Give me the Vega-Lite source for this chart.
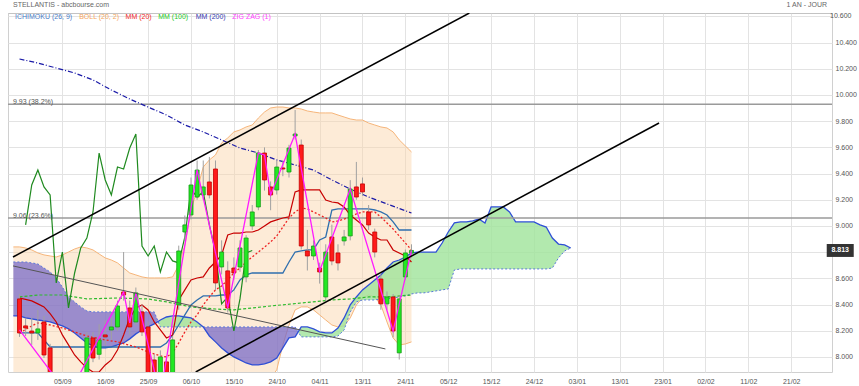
{
"$schema":"https://vega.github.io/schema/vega-lite/v6.json",
"width":824,"height":359,
"autosize":{"type":"none"},
"padding":{"left":8,"top":13,"right":27,"bottom":14},
"background":"white",
"config":{"font":"Liberation Sans","view":{"stroke":"#d0d0d0"},"axis":{"labelOverlap":false},"axisY":{"labelOverlap":false,"labelBound":false,"labelFlush":false},"axisQuantitative":{"labelOverlap":false}},
"datasets":{
"candles":[
{"i":-7,"o":8.443,"h":8.481,"l":8.153,"c":8.183},{"i":-6,"o":8.237,"h":8.298,"l":8.16,"c":8.221},{"i":-5,"o":8.198,"h":8.298,"l":8.092,"c":8.183},{"i":-4,"o":8.183,"h":8.359,"l":8.13,"c":8.214},{"i":-3,"o":8.267,"h":8.313,"l":7.992,"c":8.015},{"i":-2,"o":8.069,"h":8.1,"l":7.8,"c":7.84},{"i":-1,"o":7.84,"h":7.87,"l":7.72,"c":7.75},{"i":0,"o":7.75,"h":7.85,"l":7.7,"c":7.8},{"i":1,"o":7.8,"h":7.86,"l":7.68,"c":7.72},{"i":2,"o":7.72,"h":7.84,"l":7.7,"c":7.81},{"i":3,"o":7.81,"h":7.87,"l":7.74,"c":7.83},{"i":4,"o":7.86,"h":8.19,"l":7.82,"c":8.145},{"i":5,"o":8.145,"h":8.19,"l":7.96,"c":7.992},{"i":6,"o":8.02,"h":8.25,"l":7.98,"c":8.13},{"i":7,"o":8.168,"h":8.28,"l":8.09,"c":8.153},{"i":8,"o":8.206,"h":8.3,"l":8.13,"c":8.229},{"i":9,"o":8.229,"h":8.43,"l":8.2,"c":8.389},{"i":10,"o":8.496,"h":8.801,"l":8.43,"c":8.473},{"i":11,"o":8.374,"h":8.43,"l":8.17,"c":8.229},{"i":12,"o":8.267,"h":8.53,"l":8.24,"c":8.489},{"i":13,"o":8.344,"h":8.4,"l":8.16,"c":8.191},{"i":14,"o":8.229,"h":8.27,"l":7.82,"c":7.86},{"i":15,"o":7.977,"h":8.02,"l":7.8,"c":7.84},{"i":16,"o":7.84,"h":8.05,"l":7.8,"c":8.0},{"i":17,"o":7.962,"h":7.99,"l":7.8,"c":7.84},{"i":18,"o":7.84,"h":8.16,"l":7.82,"c":8.13},{"i":19,"o":8.397,"h":8.85,"l":8.36,"c":8.809},{"i":20,"o":8.954,"h":9.08,"l":8.89,"c":9.008},{"i":21,"o":9.084,"h":9.37,"l":9.05,"c":9.313},{"i":22,"o":9.221,"h":9.5,"l":9.2,"c":9.427},{"i":23,"o":9.237,"h":9.5,"l":9.2,"c":9.298},{"i":24,"o":9.336,"h":9.527,"l":9.21,"c":9.237},{"i":25,"o":9.435,"h":9.5,"l":8.51,"c":8.565},{"i":26,"o":8.687,"h":8.89,"l":8.63,"c":8.801},{"i":27,"o":8.657,"h":8.73,"l":8.34,"c":8.374},{"i":28,"o":8.679,"h":8.76,"l":8.59,"c":8.641},{"i":29,"o":8.687,"h":8.89,"l":8.65,"c":8.832},{"i":30,"o":8.611,"h":8.93,"l":8.57,"c":8.908},{"i":31,"o":9.0,"h":9.16,"l":8.97,"c":9.107},{"i":32,"o":9.145,"h":9.58,"l":9.12,"c":9.557},{"i":33,"o":9.557,"h":9.6,"l":9.27,"c":9.351},{"i":34,"o":9.298,"h":9.34,"l":9.12,"c":9.237},{"i":35,"o":9.275,"h":9.5,"l":9.24,"c":9.45},{"i":36,"o":9.443,"h":9.5,"l":9.38,"c":9.435},{"i":37,"o":9.412,"h":9.62,"l":9.37,"c":9.595},{"i":38,"o":9.687,"h":9.886,"l":9.66,"c":9.702},{"i":39,"o":9.618,"h":9.66,"l":8.82,"c":8.847},{"i":40,"o":8.809,"h":8.97,"l":8.66,"c":8.771},{"i":41,"o":8.771,"h":8.89,"l":8.74,"c":8.847},{"i":42,"o":8.679,"h":8.72,"l":8.56,"c":8.649},{"i":43,"o":8.458,"h":8.86,"l":8.43,"c":8.801},{"i":44,"o":8.916,"h":9.01,"l":8.7,"c":8.733},{"i":45,"o":8.794,"h":8.86,"l":8.66,"c":8.718},{"i":46,"o":8.886,"h":8.97,"l":8.85,"c":8.916},{"i":47,"o":8.924,"h":9.35,"l":8.89,"c":9.282},{"i":48,"o":9.298,"h":9.489,"l":9.2,"c":9.221},{"i":49,"o":9.321,"h":9.37,"l":9.23,"c":9.26},{"i":50,"o":9.107,"h":9.16,"l":8.97,"c":9.008},{"i":51,"o":8.954,"h":8.98,"l":8.76,"c":8.801},{"i":52,"o":8.595,"h":8.63,"l":8.36,"c":8.405},{"i":53,"o":8.405,"h":8.5,"l":8.36,"c":8.458},{"i":54,"o":8.458,"h":8.48,"l":8.15,"c":8.198},{"i":55,"o":8.031,"h":8.47,"l":7.98,"c":8.443},{"i":56,"o":8.611,"h":8.82,"l":8.59,"c":8.794},{"i":57,"o":8.794,"h":8.86,"l":8.76,"c":8.813}],
"boll":[
{"i":-8,"up":8.84,"lo":7.519},{"i":-7,"up":8.84,"lo":7.527},{"i":-6,"up":8.832,"lo":7.595},{"i":-5,"up":8.817,"lo":7.672},{"i":-4,"up":8.794,"lo":7.725},{"i":-3,"up":8.779,"lo":7.733},{"i":-2,"up":8.771,"lo":7.725},{"i":-1,"up":8.763,"lo":7.71},{"i":0,"up":8.779,"lo":7.672},{"i":1,"up":8.801,"lo":7.618},{"i":2,"up":8.824,"lo":7.565},{"i":3,"up":8.84,"lo":7.519},{"i":4,"up":8.832,"lo":7.489},{"i":5,"up":8.817,"lo":7.473},{"i":6,"up":8.786,"lo":7.489},{"i":7,"up":8.756,"lo":7.496},{"i":8,"up":8.74,"lo":7.504},{"i":9,"up":8.718,"lo":7.519},{"i":10,"up":8.679,"lo":7.534},{"i":11,"up":8.641,"lo":7.542},{"i":12,"up":8.626,"lo":7.519},{"i":13,"up":8.611,"lo":7.496},{"i":14,"up":8.603,"lo":7.473},{"i":15,"up":8.603,"lo":7.443},{"i":16,"up":8.603,"lo":7.412},{"i":17,"up":8.603,"lo":7.397},{"i":18,"up":8.611,"lo":7.443},{"i":19,"up":8.702,"lo":7.557},{"i":20,"up":8.855,"lo":7.519},{"i":21,"up":9.122,"lo":7.412},{"i":22,"up":9.275,"lo":7.397},{"i":23,"up":9.45,"lo":7.389},{"i":24,"up":9.504,"lo":7.428},{"i":25,"up":9.542,"lo":7.481},{"i":26,"up":9.634,"lo":7.481},{"i":27,"up":9.672,"lo":7.504},{"i":28,"up":9.718,"lo":7.565},{"i":29,"up":9.733,"lo":7.626},{"i":30,"up":9.756,"lo":7.687},{"i":31,"up":9.771,"lo":7.756},{"i":32,"up":9.824,"lo":7.786},{"i":33,"up":9.87,"lo":7.809},{"i":34,"up":9.901,"lo":7.84},{"i":35,"up":9.908,"lo":7.901},{"i":36,"up":9.908,"lo":8.092},{"i":37,"up":9.901,"lo":8.244},{"i":38,"up":9.901,"lo":8.359},{"i":39,"up":9.893,"lo":8.382},{"i":40,"up":9.878,"lo":8.382},{"i":41,"up":9.87,"lo":8.359},{"i":42,"up":9.863,"lo":8.321},{"i":43,"up":9.863,"lo":8.282},{"i":44,"up":9.863,"lo":8.244},{"i":45,"up":9.847,"lo":8.229},{"i":46,"up":9.832,"lo":8.237},{"i":47,"up":9.817,"lo":8.298},{"i":48,"up":9.809,"lo":8.397},{"i":49,"up":9.809,"lo":8.45},{"i":50,"up":9.786,"lo":8.473},{"i":51,"up":9.771,"lo":8.458},{"i":52,"up":9.756,"lo":8.397},{"i":53,"up":9.748,"lo":8.267},{"i":54,"up":9.718,"lo":8.145},{"i":55,"up":9.657,"lo":8.092},{"i":56,"up":9.611,"lo":8.099},{"i":57,"up":9.565,"lo":8.115}],
"cloud":[
{"i":-8,"a":8.313,"b":8.725,"seg":"s1","trend":"bear"},{"i":-7,"a":8.313,"b":8.725,"seg":"s1","trend":"bear"},{"i":-6,"a":8.298,"b":8.725,"seg":"s1","trend":"bear"},{"i":-5,"a":8.29,"b":8.718,"seg":"s1","trend":"bear"},{"i":-4,"a":8.282,"b":8.71,"seg":"s1","trend":"bear"},{"i":-3,"a":8.275,"b":8.679,"seg":"s1","trend":"bear"},{"i":-2,"a":8.267,"b":8.649,"seg":"s1","trend":"bear"},{"i":-1,"a":8.252,"b":8.603,"seg":"s1","trend":"bear"},{"i":0,"a":8.237,"b":8.534,"seg":"s1","trend":"bear"},{"i":1,"a":8.214,"b":8.458,"seg":"s1","trend":"bear"},{"i":2,"a":8.183,"b":8.42,"seg":"s1","trend":"bear"},{"i":3,"a":8.145,"b":8.382,"seg":"s1","trend":"bear"},{"i":4,"a":8.107,"b":8.351,"seg":"s1","trend":"bear"},{"i":5,"a":8.084,"b":8.344,"seg":"s1","trend":"bear"},{"i":6,"a":8.069,"b":8.344,"seg":"s1","trend":"bear"},{"i":7,"a":8.069,"b":8.344,"seg":"s1","trend":"bear"},{"i":8,"a":8.076,"b":8.344,"seg":"s1","trend":"bear"},{"i":9,"a":8.092,"b":8.344,"seg":"s1","trend":"bear"},{"i":10,"a":8.107,"b":8.344,"seg":"s1","trend":"bear"},{"i":11,"a":8.138,"b":8.344,"seg":"s1","trend":"bear"},{"i":12,"a":8.176,"b":8.344,"seg":"s1","trend":"bear"},{"i":13,"a":8.206,"b":8.344,"seg":"s1","trend":"bear"},{"i":14,"a":8.229,"b":8.344,"seg":"s1","trend":"bear"},{"i":15,"a":8.252,"b":8.344,"seg":"s1","trend":"bear"},{"i":15.63,"a":8.271,"b":8.271,"seg":"s1","trend":"bear"},
{"i":15.63,"a":8.271,"b":8.271,"seg":"s2","trend":"bull"},{"i":16,"a":8.282,"b":8.229,"seg":"s2","trend":"bull"},{"i":17,"a":8.305,"b":8.229,"seg":"s2","trend":"bull"},{"i":18,"a":8.313,"b":8.229,"seg":"s2","trend":"bull"},{"i":19,"a":8.313,"b":8.229,"seg":"s2","trend":"bull"},{"i":20,"a":8.305,"b":8.229,"seg":"s2","trend":"bull"},{"i":21,"a":8.298,"b":8.229,"seg":"s2","trend":"bull"},{"i":22,"a":8.267,"b":8.229,"seg":"s2","trend":"bull"},{"i":23,"a":8.229,"b":8.229,"seg":"s2","trend":"bull"},
{"i":23,"a":8.229,"b":8.229,"seg":"s3","trend":"bear"},{"i":24,"a":8.16,"b":8.229,"seg":"s3","trend":"bear"},{"i":25,"a":8.115,"b":8.229,"seg":"s3","trend":"bear"},{"i":26,"a":8.069,"b":8.229,"seg":"s3","trend":"bear"},{"i":27,"a":8.031,"b":8.229,"seg":"s3","trend":"bear"},{"i":28,"a":8.0,"b":8.229,"seg":"s3","trend":"bear"},{"i":29,"a":7.977,"b":8.229,"seg":"s3","trend":"bear"},{"i":30,"a":7.954,"b":8.229,"seg":"s3","trend":"bear"},{"i":31,"a":7.939,"b":8.229,"seg":"s3","trend":"bear"},{"i":32,"a":7.939,"b":8.229,"seg":"s3","trend":"bear"},{"i":33,"a":7.947,"b":8.229,"seg":"s3","trend":"bear"},{"i":34,"a":7.962,"b":8.229,"seg":"s3","trend":"bear"},{"i":35,"a":7.992,"b":8.229,"seg":"s3","trend":"bear"},{"i":36,"a":8.069,"b":8.229,"seg":"s3","trend":"bear"},{"i":37,"a":8.145,"b":8.229,"seg":"s3","trend":"bear"},{"i":38,"a":8.153,"b":8.229,"seg":"s3","trend":"bear"},{"i":38.5,"a":8.191,"b":8.191,"seg":"s3","trend":"bear"},
{"i":38.5,"a":8.191,"b":8.191,"seg":"s4","trend":"bull"},{"i":39,"a":8.229,"b":8.153,"seg":"s4","trend":"bull"},{"i":40,"a":8.229,"b":8.153,"seg":"s4","trend":"bull"},{"i":41,"a":8.214,"b":8.153,"seg":"s4","trend":"bull"},{"i":42,"a":8.191,"b":8.153,"seg":"s4","trend":"bull"},{"i":43,"a":8.183,"b":8.153,"seg":"s4","trend":"bull"},{"i":44,"a":8.183,"b":8.153,"seg":"s4","trend":"bull"},{"i":45,"a":8.221,"b":8.16,"seg":"s4","trend":"bull"},{"i":46,"a":8.298,"b":8.206,"seg":"s4","trend":"bull"},{"i":47,"a":8.397,"b":8.344,"seg":"s4","trend":"bull"},{"i":48,"a":8.458,"b":8.42,"seg":"s4","trend":"bull"},{"i":49,"a":8.512,"b":8.435,"seg":"s4","trend":"bull"},{"i":50,"a":8.55,"b":8.435,"seg":"s4","trend":"bull"},{"i":51,"a":8.588,"b":8.435,"seg":"s4","trend":"bull"},{"i":52,"a":8.626,"b":8.443,"seg":"s4","trend":"bull"},{"i":53,"a":8.679,"b":8.443,"seg":"s4","trend":"bull"},{"i":54,"a":8.725,"b":8.45,"seg":"s4","trend":"bull"},{"i":55,"a":8.74,"b":8.458,"seg":"s4","trend":"bull"},{"i":56,"a":8.763,"b":8.466,"seg":"s4","trend":"bull"},{"i":57,"a":8.794,"b":8.481,"seg":"s4","trend":"bull"},{"i":58,"a":8.801,"b":8.489,"seg":"s4","trend":"bull"},{"i":59,"a":8.801,"b":8.489,"seg":"s4","trend":"bull"},{"i":60,"a":8.801,"b":8.496,"seg":"s4","trend":"bull"},{"i":61,"a":8.801,"b":8.504,"seg":"s4","trend":"bull"},{"i":62,"a":8.87,"b":8.512,"seg":"s4","trend":"bull"},{"i":63,"a":8.954,"b":8.519,"seg":"s4","trend":"bull"},{"i":64,"a":9.023,"b":8.664,"seg":"s4","trend":"bull"},{"i":65,"a":9.031,"b":8.672,"seg":"s4","trend":"bull"},{"i":66,"a":9.031,"b":8.672,"seg":"s4","trend":"bull"},{"i":67,"a":9.038,"b":8.672,"seg":"s4","trend":"bull"},{"i":68,"a":9.053,"b":8.672,"seg":"s4","trend":"bull"},{"i":69,"a":9.023,"b":8.672,"seg":"s4","trend":"bull"},{"i":70,"a":9.145,"b":8.672,"seg":"s4","trend":"bull"},{"i":71,"a":9.145,"b":8.672,"seg":"s4","trend":"bull"},{"i":72,"a":9.145,"b":8.672,"seg":"s4","trend":"bull"},{"i":73,"a":9.107,"b":8.672,"seg":"s4","trend":"bull"},{"i":74,"a":9.031,"b":8.672,"seg":"s4","trend":"bull"},{"i":75,"a":9.031,"b":8.672,"seg":"s4","trend":"bull"},{"i":76,"a":9.031,"b":8.672,"seg":"s4","trend":"bull"},{"i":77,"a":9.031,"b":8.672,"seg":"s4","trend":"bull"},{"i":78,"a":9.008,"b":8.672,"seg":"s4","trend":"bull"},{"i":79,"a":8.992,"b":8.672,"seg":"s4","trend":"bull"},{"i":80,"a":8.908,"b":8.679,"seg":"s4","trend":"bull"},{"i":81,"a":8.862,"b":8.756,"seg":"s4","trend":"bull"},{"i":82,"a":8.855,"b":8.809,"seg":"s4","trend":"bull"},{"i":83,"a":8.832,"b":8.832,"seg":"s4","trend":"bull"}],
"tenkan":[{"i":-7,"v":8.45},{"i":-6,"v":8.44},{"i":-5,"v":8.428},{"i":-4,"v":8.405},{"i":-3,"v":8.382},{"i":-2,"v":8.33},{"i":-1,"v":8.267},{"i":0,"v":8.168},{"i":1,"v":8.092},{"i":2,"v":8.015},{"i":3,"v":7.962},{"i":4,"v":7.916},{"i":5,"v":7.885},{"i":6,"v":7.885},{"i":7,"v":7.939},{"i":8,"v":7.977},{"i":9,"v":8.053},{"i":10,"v":8.168},{"i":11,"v":8.298},{"i":12,"v":8.374},{"i":13,"v":8.397},{"i":14,"v":8.359},{"i":15,"v":8.267},{"i":16,"v":8.206},{"i":17,"v":8.145},{"i":18,"v":8.168},{"i":19,"v":8.435},{"i":20,"v":8.512},{"i":21,"v":8.588},{"i":22,"v":8.603},{"i":23,"v":8.611},{"i":24,"v":8.679},{"i":25,"v":8.725},{"i":26,"v":8.779},{"i":27,"v":8.931},{"i":28,"v":8.946},{"i":29,"v":8.946},{"i":30,"v":8.954},{"i":31,"v":8.954},{"i":32,"v":8.969},{"i":33,"v":9.0},{"i":34,"v":9.031},{"i":35,"v":9.046},{"i":36,"v":9.061},{"i":37,"v":9.069},{"i":38,"v":9.26},{"i":39,"v":9.275},{"i":40,"v":9.275},{"i":41,"v":9.275},{"i":42,"v":9.275},{"i":43,"v":9.198},{"i":44,"v":9.183},{"i":45,"v":9.176},{"i":46,"v":9.145},{"i":47,"v":9.084},{"i":48,"v":9.046},{"i":49,"v":9.008},{"i":50,"v":8.946},{"i":51,"v":8.916},{"i":52,"v":8.893},{"i":53,"v":8.893},{"i":54,"v":8.817},{"i":55,"v":8.794},{"i":56,"v":8.771},{"i":57,"v":8.725}],
"kijun":[{"i":-7,"v":8.183},{"i":-4,"v":8.183},{"i":-3,"v":8.13},{"i":-2,"v":8.076},{"i":16,"v":8.076},{"i":17,"v":8.107},{"i":18,"v":8.168},{"i":19,"v":8.244},{"i":20,"v":8.321},{"i":21,"v":8.397},{"i":22,"v":8.435},{"i":23,"v":8.466},{"i":25,"v":8.466},{"i":26,"v":8.473},{"i":27,"v":8.473},{"i":28,"v":8.512},{"i":29,"v":8.588},{"i":30,"v":8.626},{"i":31,"v":8.641},{"i":36,"v":8.641},{"i":37,"v":8.725},{"i":38,"v":8.801},{"i":39,"v":8.809},{"i":40,"v":8.817},{"i":41,"v":8.817},{"i":42,"v":8.893},{"i":43,"v":8.916},{"i":44,"v":9.122},{"i":45,"v":9.13},{"i":50,"v":9.13},{"i":51,"v":9.122},{"i":52,"v":9.107},{"i":53,"v":9.084},{"i":54,"v":9.031},{"i":55,"v":8.969},{"i":57,"v":8.969}],
"chikou":[{"i":-6,"v":9.008},{"i":-5,"v":9.313},{"i":-4,"v":9.427},{"i":-3,"v":9.298},{"i":-2,"v":9.237},{"i":-1,"v":8.565},{"i":0,"v":8.801},{"i":1,"v":8.374},{"i":2,"v":8.641},{"i":3,"v":8.832},{"i":4,"v":8.908},{"i":5,"v":9.107},{"i":6,"v":9.557},{"i":7,"v":9.351},{"i":8,"v":9.237},{"i":9,"v":9.45},{"i":10,"v":9.435},{"i":11,"v":9.595},{"i":12,"v":9.702},{"i":13,"v":8.847},{"i":14,"v":8.771},{"i":15,"v":8.847},{"i":16,"v":8.649},{"i":17,"v":8.801},{"i":18,"v":8.733},{"i":19,"v":8.718},{"i":20,"v":8.916},{"i":21,"v":9.282},{"i":22,"v":9.221},{"i":23,"v":9.26},{"i":24,"v":9.008},{"i":25,"v":8.801},{"i":26,"v":8.405},{"i":27,"v":8.458},{"i":28,"v":8.198},{"i":29,"v":8.443},{"i":30,"v":8.794},{"i":31,"v":8.813}],
"mm20":[{"i":-7,"v":8.183},{"i":-5,"v":8.237},{"i":-4,"v":8.26},{"i":-2,"v":8.244},{"i":0,"v":8.221},{"i":2,"v":8.191},{"i":4,"v":8.16},{"i":7,"v":8.13},{"i":9,"v":8.115},{"i":12,"v":8.076},{"i":14,"v":8.038},{"i":16,"v":8.008},{"i":17,"v":8.0},{"i":18,"v":8.031},{"i":19,"v":8.107},{"i":20,"v":8.191},{"i":21,"v":8.267},{"i":22,"v":8.321},{"i":23,"v":8.397},{"i":24,"v":8.458},{"i":25,"v":8.512},{"i":26,"v":8.542},{"i":27,"v":8.588},{"i":28,"v":8.641},{"i":29,"v":8.679},{"i":30,"v":8.725},{"i":31,"v":8.763},{"i":32,"v":8.801},{"i":33,"v":8.839},{"i":34,"v":8.878},{"i":35,"v":8.924},{"i":36,"v":8.992},{"i":37,"v":9.061},{"i":38,"v":9.107},{"i":39,"v":9.137},{"i":40,"v":9.13},{"i":41,"v":9.107},{"i":42,"v":9.084},{"i":43,"v":9.061},{"i":44,"v":9.031},{"i":45,"v":9.038},{"i":46,"v":9.053},{"i":47,"v":9.069},{"i":48,"v":9.092},{"i":49,"v":9.107},{"i":50,"v":9.107},{"i":51,"v":9.107},{"i":52,"v":9.069},{"i":53,"v":9.023},{"i":54,"v":8.977},{"i":55,"v":8.924},{"i":56,"v":8.87},{"i":57,"v":8.817}],
"mm100":[{"i":-7,"v":8.458},{"i":-4,"v":8.473},{"i":0,"v":8.473},{"i":4,"v":8.443},{"i":9,"v":8.45},{"i":14,"v":8.443},{"i":17,"v":8.42},{"i":21,"v":8.382},{"i":25,"v":8.366},{"i":28,"v":8.359},{"i":34,"v":8.389},{"i":39,"v":8.412},{"i":44,"v":8.435},{"i":47,"v":8.443},{"i":50,"v":8.458},{"i":53,"v":8.458},{"i":57,"v":8.473}],
"mm200":[{"i":-7,"v":10.275},{"i":-4,"v":10.244},{"i":-1,"v":10.206},{"i":2,"v":10.168},{"i":5,"v":10.115},{"i":8,"v":10.038},{"i":11,"v":9.969},{"i":14,"v":9.908},{"i":17,"v":9.847},{"i":20,"v":9.771},{"i":23,"v":9.718},{"i":26,"v":9.657},{"i":29,"v":9.595},{"i":32,"v":9.557},{"i":35,"v":9.504},{"i":38,"v":9.466},{"i":41,"v":9.427},{"i":44,"v":9.351},{"i":47,"v":9.282},{"i":50,"v":9.221},{"i":53,"v":9.168},{"i":57,"v":9.099}],
"zigzag":[{"i":-7,"v":8.206},{"i":1,"v":7.71},{"i":10,"v":8.496},{"i":11,"v":8.26},{"i":12,"v":8.489},{"i":16,"v":7.7},{"i":22,"v":9.427},{"i":27,"v":8.374},{"i":32,"v":9.557},{"i":33,"v":9.542},{"i":34,"v":9.237},{"i":38,"v":9.702},{"i":42,"v":8.657},{"i":47,"v":9.282},{"i":54,"v":8.198},{"i":57,"v":8.813}],
"channel":[{"line":"u","i":-8.06,"v":8.763},{"line":"u","i":66.45,"v":10.626},{"line":"l","i":21.77,"v":7.885},{"line":"l","i":97.42,"v":9.786}],
"trend":[{"i":-8.06,"v":8.695},{"i":52.74,"v":8.061}],
"fib":[{"level":10.63,"label":""},{"level":9.93,"label":"9.93  (38.2%)"},{"level":9.06,"label":"9.06  (23.6%)"}],
"toplabel":[{"v":10.6}],
"price":[{"price":8.813}],
"one":[{"n":1}]
},
"layer":[
{"data":{"name":"boll"},"mark":{"type":"area","fill":"#fbd3a6","opacity":0.45,"clip":true},
 "encoding":{"x":{"field":"i","type":"quantitative","scale":{"domain":[-8.06,124.84],"nice":false,"zero":false},
   "axis":{"values":[0,7,14,21,28,35,42,49,56,63,70,77,84,91,98,105,112,119],"tickCount":40,"labelExpr":"['05/09','16/09','25/09','06/10','15/10','24/10','04/11','13/11','24/11','05/12','15/12','24/12','03/01','13/01','23/01','02/02','11/02','21/02'][round(datum.value/7)]","labelOverlap":false,"grid":true,"gridColor":"#e3e3e3","ticks":false,"domain":false,"labelFontSize":7,"labelColor":"#555555","labelPadding":5,"title":null}},
  "y":{"field":"up","type":"quantitative","scale":{"domain":[7.885,10.626],"nice":false,"zero":false},
   "axis":{"orient":"right","tickCount":14,"labelExpr":"abs(datum.value-8.8)<0.01 || abs(datum.value-10.6)<0.01 ? '' : format(datum.value,'.3f')","labelOverlap":false,"labelBound":false,"labelFlush":false,"labelSeparation":0,"grid":true,"gridColor":"#e3e3e3","ticks":false,"domain":false,"labelFontSize":7,"labelColor":"#555555","labelPadding":3,"title":null}},
  "y2":{"field":"lo"}}},
{"data":{"name":"boll"},"mark":{"type":"line","color":"#f6b57a","strokeWidth":1,"clip":true},"encoding":{"x":{"field":"i","type":"quantitative"},"y":{"field":"up","type":"quantitative"}}},
{"data":{"name":"boll"},"mark":{"type":"line","color":"#f6b57a","strokeWidth":1,"clip":true},"encoding":{"x":{"field":"i","type":"quantitative"},"y":{"field":"lo","type":"quantitative"}}},
{"data":{"name":"cloud"},"transform":[{"filter":{"field":"trend","equal":"bear"}}],"mark":{"type":"area","fill":"#7466c8","opacity":0.72,"clip":true},"encoding":{"x":{"field":"i","type":"quantitative"},"y":{"field":"a","type":"quantitative"},"y2":{"field":"b"},"detail":{"field":"seg"}}},
{"data":{"name":"cloud"},"transform":[{"filter":{"field":"trend","equal":"bull"}}],"mark":{"type":"area","fill":"#9fe39a","opacity":0.8,"clip":true},"encoding":{"x":{"field":"i","type":"quantitative"},"y":{"field":"a","type":"quantitative"},"y2":{"field":"b"},"detail":{"field":"seg"}}},
{"data":{"name":"cloud"},"mark":{"type":"line","color":"#5a78dc","strokeWidth":1,"strokeDash":[2,2],"clip":true},"encoding":{"x":{"field":"i","type":"quantitative"},"y":{"field":"b","type":"quantitative"}}},
{"data":{"name":"cloud"},"mark":{"type":"line","color":"#2f4fd6","strokeWidth":1.3,"clip":true},"encoding":{"x":{"field":"i","type":"quantitative"},"y":{"field":"a","type":"quantitative"}}},
{"data":{"name":"fib"},"mark":{"type":"rule","color":"#9a9a9a","strokeWidth":1.5,"clip":true},"encoding":{"y":{"field":"level","type":"quantitative"}}},
{"data":{"name":"mm100"},"mark":{"type":"line","color":"#2dbb2d","strokeWidth":1.2,"strokeDash":[3,2],"clip":true},"encoding":{"x":{"field":"i","type":"quantitative"},"y":{"field":"v","type":"quantitative"}}},
{"data":{"name":"mm200"},"mark":{"type":"line","color":"#1a1aa8","strokeWidth":1.2,"strokeDash":[5,2,1,2],"clip":true},"encoding":{"x":{"field":"i","type":"quantitative"},"y":{"field":"v","type":"quantitative"}}},
{"data":{"name":"kijun"},"mark":{"type":"line","color":"#2f6fae","strokeWidth":1.3,"clip":true},"encoding":{"x":{"field":"i","type":"quantitative"},"y":{"field":"v","type":"quantitative"}}},
{"data":{"name":"tenkan"},"mark":{"type":"line","color":"#c80000","strokeWidth":1.2,"clip":true},"encoding":{"x":{"field":"i","type":"quantitative"},"y":{"field":"v","type":"quantitative"}}},
{"data":{"name":"mm20"},"mark":{"type":"line","color":"#ee2222","strokeWidth":1.3,"strokeDash":[2,2],"clip":true},"encoding":{"x":{"field":"i","type":"quantitative"},"y":{"field":"v","type":"quantitative"}}},
{"data":{"name":"chikou"},"mark":{"type":"line","color":"#1f8a1f","strokeWidth":1.2,"clip":true},"encoding":{"x":{"field":"i","type":"quantitative"},"y":{"field":"v","type":"quantitative"}}},
{"data":{"name":"candles"},"mark":{"type":"rule","color":"#a0a0a0","strokeWidth":1,"clip":true},"encoding":{"x":{"field":"i","type":"quantitative"},"y":{"field":"l","type":"quantitative"},"y2":{"field":"h"}}},
{"data":{"name":"candles"},"mark":{"type":"bar","width":4,"strokeWidth":0.8,"clip":true},"encoding":{"x":{"field":"i","type":"quantitative"},"y":{"field":"o","type":"quantitative"},"y2":{"field":"c"},
  "fill":{"condition":{"test":"datum.c >= datum.o","value":"#22e822"},"value":"#ff1a1a"},
  "stroke":{"condition":{"test":"datum.c >= datum.o","value":"#169c16"},"value":"#c40000"}}},
{"data":{"name":"zigzag"},"mark":{"type":"line","color":"#ff1aff","strokeWidth":1.3,"clip":true},"encoding":{"x":{"field":"i","type":"quantitative"},"y":{"field":"v","type":"quantitative"}}},
{"data":{"name":"trend"},"mark":{"type":"line","color":"#555555","strokeWidth":1,"clip":true},"encoding":{"x":{"field":"i","type":"quantitative"},"y":{"field":"v","type":"quantitative"}}},
{"data":{"name":"channel"},"mark":{"type":"line","color":"#000000","strokeWidth":1.5,"clip":true},"encoding":{"x":{"field":"i","type":"quantitative"},"y":{"field":"v","type":"quantitative"},"detail":{"field":"line"}}},
{"data":{"name":"fib"},"mark":{"type":"text","align":"left","baseline":"bottom","dy":1,"fontSize":7,"color":"#555555"},"encoding":{"x":{"datum":-8.06,"type":"quantitative"},"y":{"field":"level","type":"quantitative"},"text":{"field":"label"}}},
{"data":{"name":"toplabel"},"mark":{"type":"text","align":"left","baseline":"middle","fontSize":7,"color":"#555555"},"encoding":{"x":{"datum":125.33,"type":"quantitative"},"y":{"field":"v","type":"quantitative"},"text":{"field":"v","format":".3f"}}},
{"data":{"name":"one"},"mark":{"type":"text","text":"STELLANTIS - abcbourse.com","align":"left","baseline":"middle","dy":-8,"fontSize":7,"color":"#666666"},"encoding":{"x":{"datum":-8.06,"type":"quantitative"},"y":{"datum":10.626,"type":"quantitative"}}},
{"data":{"name":"one"},"mark":{"type":"text","text":"1 AN - JOUR","align":"right","baseline":"middle","dy":-8,"fontSize":7,"color":"#666666"},"encoding":{"x":{"datum":124.84,"type":"quantitative"},"y":{"datum":10.626,"type":"quantitative"}}},
{"data":{"name":"one"},"mark":{"type":"text","text":"ICHIMOKU (26, 9)","align":"left","baseline":"middle","dy":3.5,"fontSize":7,"color":"#4a7cc8"},"encoding":{"x":{"datum":-7.74,"type":"quantitative"},"y":{"datum":10.626,"type":"quantitative"}}},
{"data":{"name":"one"},"mark":{"type":"text","text":"BOLL (20, 2)","align":"left","baseline":"middle","dy":3.5,"fontSize":7,"color":"#f5a55a"},"encoding":{"x":{"datum":2.74,"type":"quantitative"},"y":{"datum":10.626,"type":"quantitative"}}},
{"data":{"name":"one"},"mark":{"type":"text","text":"MM (20)","align":"left","baseline":"middle","dy":3.5,"fontSize":7,"color":"#f01e1e"},"encoding":{"x":{"datum":10.32,"type":"quantitative"},"y":{"datum":10.626,"type":"quantitative"}}},
{"data":{"name":"one"},"mark":{"type":"text","text":"MM (100)","align":"left","baseline":"middle","dy":3.5,"fontSize":7,"color":"#22c922"},"encoding":{"x":{"datum":15.65,"type":"quantitative"},"y":{"datum":10.626,"type":"quantitative"}}},
{"data":{"name":"one"},"mark":{"type":"text","text":"MM (200)","align":"left","baseline":"middle","dy":3.5,"fontSize":7,"color":"#3535b0"},"encoding":{"x":{"datum":21.77,"type":"quantitative"},"y":{"datum":10.626,"type":"quantitative"}}},
{"data":{"name":"one"},"mark":{"type":"text","text":"ZIG ZAG (1)","align":"left","baseline":"middle","dy":3.5,"fontSize":7,"color":"#ff40ff"},"encoding":{"x":{"datum":27.74,"type":"quantitative"},"y":{"datum":10.626,"type":"quantitative"}}},
{"data":{"name":"price"},"mark":{"type":"point","shape":"M-1,-0.48H1V0.48H-1Z","size":729,"filled":true,"fill":"#333333","opacity":1,"strokeWidth":0},"encoding":{"x":{"datum":127,"type":"quantitative"},"y":{"field":"price","type":"quantitative"}}},
{"data":{"name":"price"},"mark":{"type":"text","color":"white","fontSize":7,"fontWeight":"bold"},"encoding":{"x":{"datum":127,"type":"quantitative"},"y":{"field":"price","type":"quantitative"},"text":{"field":"price","format":".3f"}}}
]
}
